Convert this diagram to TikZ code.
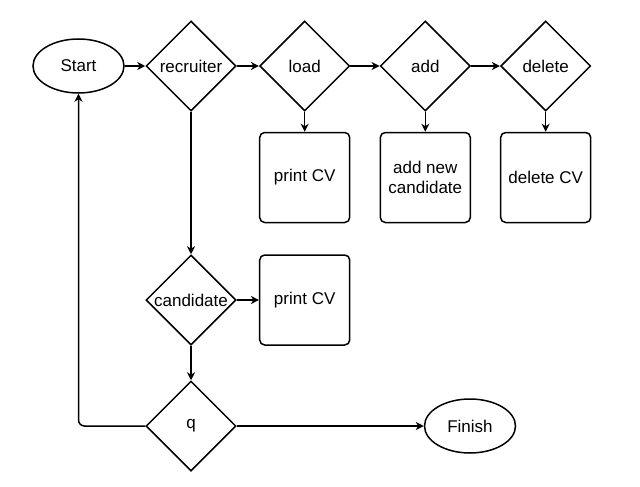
\documentclass[tikz,border=0pt]{standalone}
\usepackage{fontspec}
\setmainfont{Liberation Sans}
\usetikzlibrary{shapes.geometric,arrows.meta}
\begin{document}
\begin{tikzpicture}[x=1pt,y=-1pt,
  every node/.style={font=\fontsize{17}{20.5}\selectfont, inner sep=0pt},
  dec/.style={diamond, draw, line width=1.5pt, minimum width=90pt, minimum height=90pt, aspect=1},
  term/.style={ellipse, draw, line width=1.5pt, minimum width=91pt, minimum height=54pt},
  proc/.style={rectangle, draw, line width=1.5pt, rounded corners=5pt, minimum width=90pt, minimum height=90pt, align=center},
  conn/.style={line width=1.5pt, -{Stealth[length=8pt,width=8pt,inset=2.5pt]}}
]
\useasboundingbox (0,0) rectangle (640,487);
\node[term] (start) at (78.5,66) {Start};
\node[dec] (recruiter) at (191,66) {\makebox[0pt]{recruiter}};
\node[dec] (load) at (304.7,66) {\makebox[0pt]{load}};
\node[dec] (add) at (425.3,66) {\makebox[0pt]{add}};
\node[dec] (delete) at (545.7,66) {\makebox[0pt]{delete}};
\node[proc] (print1) at (304.7,177.5) {print CV};
\node[proc] (addnew) at (425.3,177.5) {add new\\candidate};
\node[proc] (delcv) at (545.7,177.5) {delete CV};
\node[dec] (candidate) at (191,300) {\makebox[0pt]{candidate}};
\node[proc] (print2) at (304.7,300) {print CV};
\node[dec] (q) at (191,426) {\makebox[0pt]{q}};
\node[term] (finish) at (470,426) {Finish};

\draw[conn] (start) -- (recruiter);
\draw[conn] (recruiter) -- (load);
\draw[conn] (load) -- (add);
\draw[conn] (add) -- (delete);
\draw[conn] (load) -- (print1);
\draw[conn] (add) -- (addnew);
\draw[conn] (delete) -- (delcv);
\draw[conn] (recruiter) -- (candidate);
\draw[conn] (candidate) -- (print2);
\draw[conn] (candidate) -- (q);
\draw[conn] (q) -- (finish);
\draw[conn, rounded corners=6pt] (q.west) -| (start.south);
\end{tikzpicture}
\end{document}
